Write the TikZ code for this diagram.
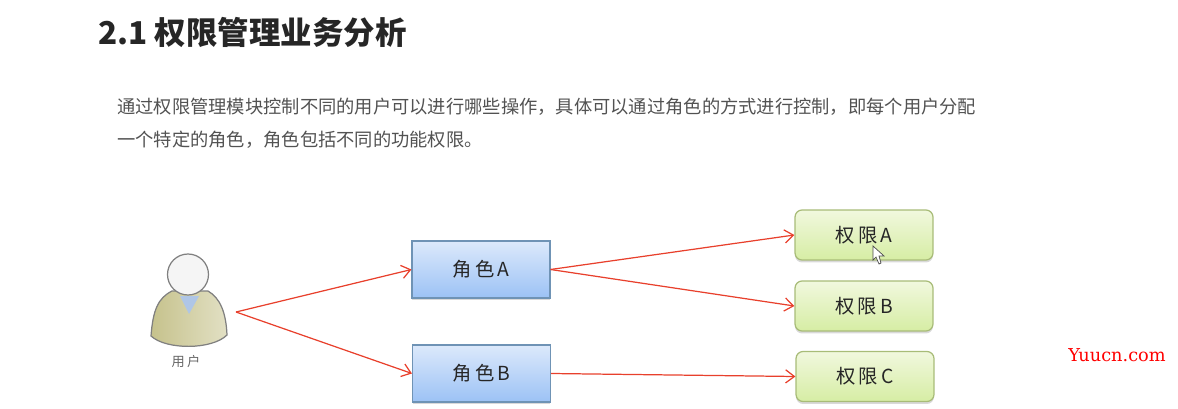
\documentclass[tikz,border=0pt]{standalone}
\usepackage{fontspec}
\newfontfamily\cjk{Noto Sans CJK SC}
\newfontfamily\markfont{DejaVu Serif}
\usetikzlibrary{arrows.meta,shadows}
\definecolor{rolelight}{HTML}{DCE9FB}
\definecolor{roledark}{HTML}{9CC2F5}
\definecolor{roleline}{HTML}{6F93B5}
\definecolor{permlight}{HTML}{F1F8DE}
\definecolor{permdark}{HTML}{D6EDA4}
\definecolor{permline}{HTML}{A8BC78}
\definecolor{linkred}{HTML}{E8402C}
\definecolor{bodyleft}{HTML}{C6C28C}
\definecolor{bodyright}{HTML}{E2E0C4}
\definecolor{collar}{HTML}{AFC6E6}
\tikzset{
  rolebox/.style={draw=roleline, line width=0.6pt, top color=rolelight, bottom color=roledark,
    minimum width=2.76cm, minimum height=1.14cm, inner sep=0pt, text=black!85, font=\cjk\fontsize{11}{12}\selectfont,
    drop shadow={shadow xshift=0cm, shadow yshift=-0.05cm, opacity=0.3}},
  permbox/.style={draw=permline, line width=0.7pt, rounded corners=4pt, top color=permlight, bottom color=permdark,
    minimum width=2.76cm, minimum height=1cm, inner sep=0pt, text=black!85, font=\cjk\fontsize{11}{12}\selectfont,
    drop shadow={shadow xshift=0cm, shadow yshift=-0.05cm, opacity=0.3}},
  link/.style={draw=linkred, line width=0.7pt, -{Straight Barb[length=5pt,width=7.5pt]}},
  bodytext/.style={anchor=west, inner sep=0pt, text=black!68, font=\cjk\fontsize{10.4}{12}\selectfont}
}
\begin{document}
\begin{tikzpicture}[x=0.02cm,y=-0.02cm]
  \useasboundingbox (0,0) rectangle (1178,409);
  \node[anchor=west, inner sep=0pt, text=black!85, font=\cjk\bfseries\fontsize{17.9}{20}\selectfont] (title) at (98,32) {2.1 权限管理业务分析};
  \node[bodytext] (line1) at (117,107) {通过权限管理模块控制不同的用户可以进行哪些操作，具体可以通过角色的方式进行控制，即每个用户分配};
  \node[bodytext] (line2) at (117,140) {一个特定的角色，角色包括不同的功能权限。};

  % user figure
  \fill[draw=black!50, line width=0.7pt, left color=bodyleft, right color=bodyright]
    (151,336) .. controls (153,310) and (158,298) .. (172,291)
    -- (208,291) .. controls (220,298) and (226,312) .. (227,335)
    .. controls (212,350) and (166,350) .. (151,336) -- cycle;
  \fill[fill=collar] (180,296) -- (199,296) -- (189,314) -- cycle;
  \node[circle, draw=black!50, line width=0.7pt, fill=black!4, minimum size=0.82cm, inner sep=0pt] (head) at (188,274.5) {};
  \node[inner sep=0pt, text=black!60, font=\cjk\fontsize{7.5}{8}\selectfont] (userlabel) at (186,361) {用\,户};
  \coordinate (user) at (236,312);

  \node[rolebox] (roleA) at (481,269.5) {角\,色\,A};
  \node[rolebox] (roleB) at (481.5,373.5) {角\,色\,B};
  \node[permbox] (permA) at (864,235) {权\,限\,A};
  \node[permbox] (permB) at (864,306) {权\,限\,B};
  \node[permbox] (permC) at (865,376.5) {权\,限\,C};

  \draw[link] (user) -- (roleA.west);
  \draw[link] (user) -- (roleB.west);
  \draw[link] (roleA.east) -- (permA.west);
  \draw[link] (roleA.east) -- (permB.west);
  \draw[link] (roleB.east) -- (permC.west);

  % mouse pointer
  \draw[fill=white, draw=black!70, line width=0.4pt] (873,246) -- (873,260) -- (876,257) -- (879,264) -- (881,263) -- (879,256) -- (884,256) -- cycle;

  \node[inner sep=0pt, text=red, font=\markfont\fontsize{10.1}{12}\selectfont] (mark) at (1117,355) {Yuucn.com};
\end{tikzpicture}
\end{document}
